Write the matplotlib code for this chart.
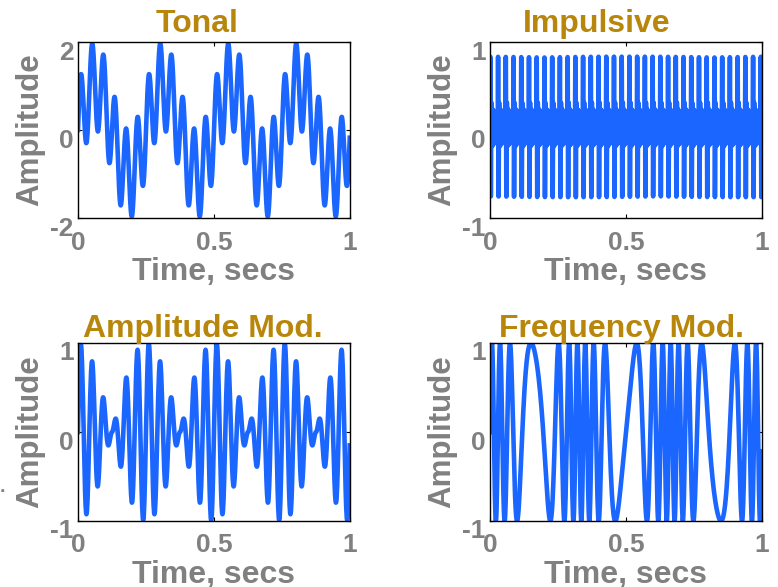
import matplotlib
matplotlib.use("Agg")
import matplotlib.pyplot as plt
import matplotlib.transforms as mtransforms
import numpy as np

# signal parameters
fs = 1000                      # samples per second
fs_imp = 5000                  # finer grid for the impulsive trace
tonal_freqs = [4, 24]          # Hz, two unit sine waves
impulse_rate = 35.2            # impulses per second
ring_freq = 230                # Hz, ringing after each impulse
burst_gain = 0.72              # first big cycle of each impulse
burst_center = 0.00217         # s
burst_width = 0.002            # s
tail_gain = 0.25               # low ringing that fills the rest of the period
tail_decay = 0.05              # s
ring_offset = 0.03
am_env_freq = 2                # Hz, |cos| envelope
am_carrier = 24                # Hz
fm_carrier = 20                # Hz
fm_rate = 3                    # Hz
fm_index = 5

titles = ['Tonal', 'Impulsive', 'Amplitude Mod.', 'Frequency Mod.']
title_x = [0.4375, 0.392, 0.459, 0.482]
ylims = [(-2, 2), (-1, 1), (-1, 1), (-1, 1)]
yticks = [[-2, 0, 2], [-1, 0, 1], [-1, 0, 1], [-1, 0, 1]]
xticks = [0, 0.5, 1]
xticklabels = ['0', '0.5', '1']

t = np.arange(fs) / fs
ti = np.arange(fs_imp) / fs_imp

tonal = np.sin(2 * np.pi * tonal_freqs[0] * t) + np.sin(2 * np.pi * tonal_freqs[1] * t)
tau = np.mod(ti, 1 / impulse_rate)
ring = np.sin(2 * np.pi * ring_freq * tau)
impulsive = (burst_gain * np.exp(-((tau - burst_center) / burst_width) ** 2) * ring
             + tail_gain * np.exp(-tau / tail_decay) * ring + ring_offset)
am = np.abs(np.cos(2 * np.pi * am_env_freq * t)) * np.sin(2 * np.pi * am_carrier * t)
fm = np.sin(2 * np.pi * fm_carrier * t + fm_index * np.sin(2 * np.pi * fm_rate * t))
signals = [(t, tonal), (ti, impulsive), (t, am), (t, fm)]

plt.rcParams['font.family'] = ['Liberation Sans', 'DejaVu Sans']
plt.rcParams['font.weight'] = 'bold'
plt.rcParams['axes.unicode_minus'] = False

gray = '#808080'
gold = '#B8860B'
blue = '#1A66FF'

fig = plt.figure(figsize=(7.78, 5.87), dpi=100)
W, H = 778, 587
# axes boxes in pixels: left, top, right, bottom
boxes = [(78, 42, 350, 218), (490, 42, 762, 218),
         (78, 343, 350, 521), (490, 343, 762, 521)]
title_pads = [7, 7, 4.5, 4.5]
shift = mtransforms.ScaledTranslation(0, -8 / 100, fig.dpi_scale_trans)

for i in range(4):
    l, tp, r, b = boxes[i]
    ax = fig.add_axes([l / W, 1 - b / H, (r - l) / W, (b - tp) / H])
    x, y = signals[i]
    ax.plot(x, y, color=blue, lw=3.3)
    ax.set_xlim(0, 1)
    ax.set_ylim(*ylims[i])
    ax.set_xticks(xticks)
    ax.set_xticklabels(xticklabels)
    ax.set_yticks(yticks[i])
    ax.tick_params(direction='in', length=3, width=0.8, top=True, right=True,
                   labelsize=19, labelcolor=gray, colors='black')
    ax.tick_params(axis='x', pad=9)
    ax.tick_params(axis='y', pad=3)
    for lab in ax.get_xticklabels():
        lab.set_fontweight('bold')
    for lab in ax.get_yticklabels():
        lab.set_fontweight('bold')
        lab.set_transform(lab.get_transform() + shift)
    for s in ax.spines.values():
        s.set_linewidth(1.0)
    ax.set_title(titles[i], color=gold, fontsize=23, fontweight='bold',
                 pad=title_pads[i], x=title_x[i])
    ax.set_xlabel('Time, secs', color=gray, fontsize=23, fontweight='bold')
    ax.set_ylabel('Amplitude', color=gray, fontsize=22.5, fontweight='bold')
    hb = b - tp
    ax.xaxis.set_label_coords(0.5, -39 / hb)
    ax.yaxis.set_label_coords(-33 / (r - l), 0.5)

fig.text(0.0, 1 - 492 / H, '.', color=gray, fontsize=14, fontweight='bold', ha='left', va='baseline')

fig.savefig('out.png', dpi=100)
